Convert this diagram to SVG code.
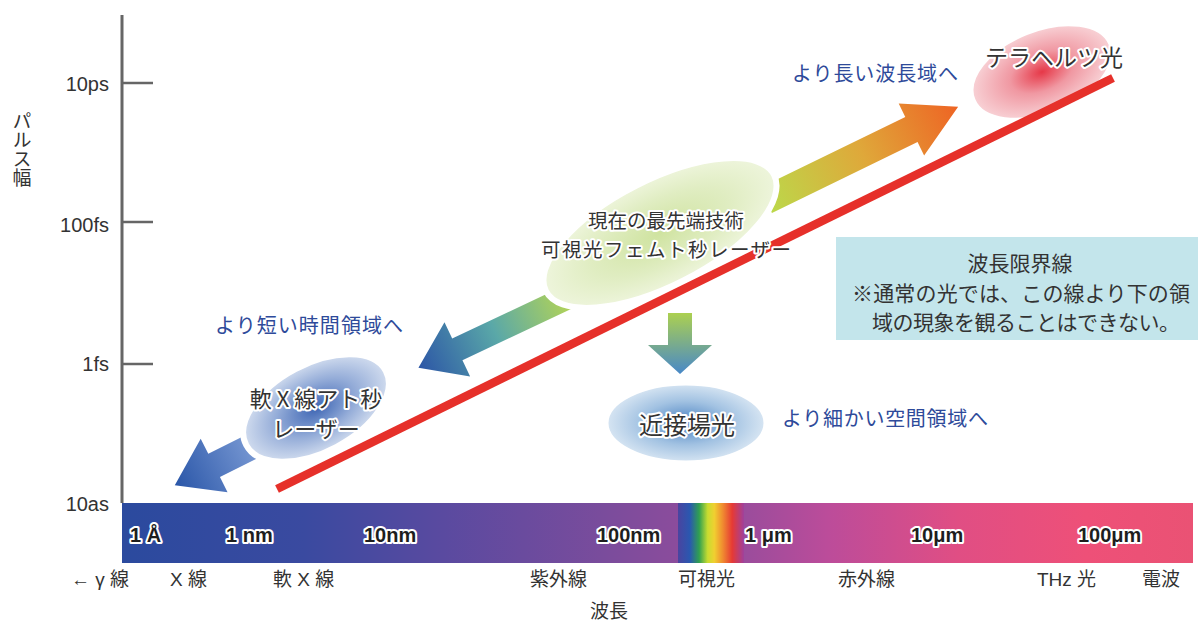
<svg xmlns="http://www.w3.org/2000/svg" width="1198" height="621" viewBox="0 0 1198 621">
<style>
.ax{font-family:"Liberation Sans","Noto Sans CJK JP",sans-serif;font-size:20px;fill:#333}
.jp{font-family:"Noto Sans CJK JP","Liberation Sans",sans-serif;fill:#333}
.lab{font-family:"Liberation Sans","Noto Sans CJK JP",sans-serif;font-size:19px;fill:#333}
.bar{font-family:"Liberation Sans",sans-serif;font-size:20px;font-weight:bold;fill:#1e1e1e;stroke:#fff;stroke-width:4;stroke-linejoin:round;paint-order:stroke}
.halo{stroke:#fff;stroke-width:4;stroke-linejoin:round;paint-order:stroke}
.blue{font-family:"Noto Sans CJK JP",sans-serif;font-size:20px;fill:#2e4a9a}
.box{font-family:"Noto Sans CJK JP",sans-serif;font-size:21px;fill:#333}
</style>
<defs>
<linearGradient id="spec" x1="122" y1="0" x2="1193" y2="0" gradientUnits="userSpaceOnUse">
<stop offset="0" stop-color="#2b4a9e"/>
<stop offset="0.17" stop-color="#3a4aa0"/>
<stop offset="0.3" stop-color="#5a4aa0"/>
<stop offset="0.45" stop-color="#7a4c9c"/>
<stop offset="0.58" stop-color="#9a4c9c"/>
<stop offset="0.66" stop-color="#bc4c9a"/>
<stop offset="0.78" stop-color="#e04e84"/>
<stop offset="0.9" stop-color="#ee5078"/>
<stop offset="1" stop-color="#ea5274"/>
</linearGradient>
<linearGradient id="vis" x1="0" y1="0" x2="1" y2="0">
<stop offset="0" stop-color="#4a44a0"/>
<stop offset="0.18" stop-color="#2a58b0"/>
<stop offset="0.32" stop-color="#30a050"/>
<stop offset="0.45" stop-color="#c8dc30"/>
<stop offset="0.55" stop-color="#f0d030"/>
<stop offset="0.68" stop-color="#f08a30"/>
<stop offset="0.82" stop-color="#e63a34"/>
<stop offset="1" stop-color="#a0409c"/>
</linearGradient>
<linearGradient id="gUp" x1="0" y1="0" x2="1" y2="0">
<stop offset="0" stop-color="#bcd84a"/>
<stop offset="0.5" stop-color="#dfa83a"/>
<stop offset="1" stop-color="#ee6424"/>
</linearGradient>
<linearGradient id="gLeft" x1="0" y1="0" x2="1" y2="0">
<stop offset="0" stop-color="#b8d652"/>
<stop offset="0.5" stop-color="#5aa8a8"/>
<stop offset="1" stop-color="#2c56a6"/>
</linearGradient>
<linearGradient id="gBlue" x1="0" y1="0" x2="1" y2="0">
<stop offset="0" stop-color="#7a9ad4"/>
<stop offset="1" stop-color="#2a56a8"/>
</linearGradient>
<linearGradient id="gDown" x1="0" y1="0" x2="0" y2="1">
<stop offset="0" stop-color="#acd050"/>
<stop offset="1" stop-color="#4888c8"/>
</linearGradient>
<radialGradient id="rPink">
<stop offset="0" stop-color="#e63848"/>
<stop offset="0.45" stop-color="#f098a2"/>
<stop offset="1" stop-color="#f8d2d6"/>
</radialGradient>
<radialGradient id="rGreen">
<stop offset="0" stop-color="#cfe3a0"/>
<stop offset="0.6" stop-color="#e0edc2"/>
<stop offset="1" stop-color="#eef5dc"/>
</radialGradient>
<radialGradient id="rBlue">
<stop offset="0" stop-color="#3e66b4"/>
<stop offset="0.55" stop-color="#94acd8"/>
<stop offset="1" stop-color="#d2ddef"/>
</radialGradient>
<radialGradient id="rNear">
<stop offset="0" stop-color="#4a82c2"/>
<stop offset="0.55" stop-color="#a2c2e2"/>
<stop offset="1" stop-color="#d8e6f3"/>
</radialGradient>
</defs>

<g id="axis">
<line x1="122" y1="15" x2="122" y2="503" stroke="#666" stroke-width="3"/>
<g stroke="#666" stroke-width="2.5">
<line x1="122" y1="83" x2="153" y2="83"/>
<line x1="122" y1="222" x2="153" y2="222"/>
<line x1="122" y1="364" x2="153" y2="364"/>
</g>
<g class="ax" text-anchor="end">
<text x="109" y="91">10ps</text>
<text x="109" y="232">100fs</text>
<text x="109" y="371">1fs</text>
<text x="109" y="511">10as</text>
</g>
<text class="jp" x="22" y="111" font-size="19" style="writing-mode:vertical-rl">パルス幅</text>
</g>

<g id="spectrum">
<rect x="122" y="503" width="1071" height="60" fill="url(#spec)"/>
<rect x="678" y="503" width="66" height="60" fill="url(#vis)"/>
<g class="bar">
<text x="130" y="542">1 Å</text>
<text x="226" y="542">1 nm</text>
<text x="364" y="542">10nm</text>
<text x="597" y="542">100nm</text>
<text x="745" y="542">1 μm</text>
<text x="911" y="542">10μm</text>
<text x="1078" y="542">100μm</text>
</g>
<g class="lab">
<text x="71" y="586">← γ 線</text>
<text x="170" y="586">X 線</text>
<text x="273" y="586">軟 X 線</text>
<text x="530" y="586">紫外線</text>
<text x="678" y="586">可視光</text>
<text x="838" y="586">赤外線</text>
<text x="1037" y="586">THz 光</text>
<text x="1142" y="586">電波</text>
<text x="609" y="618" text-anchor="middle">波長</text>
</g>
</g>

<g id="connectors">
<polygon transform="translate(773 197) rotate(-26)" points="-8,-14 154,-14 154,-29 206,0 154,29 154,14 -8,14" fill="url(#gUp)"/>
<polygon transform="translate(564 299) rotate(154.7)" points="-8,-12 118,-12 118,-30 161,0 118,30 118,12 -8,12" fill="url(#gLeft)"/>
<polygon transform="translate(249 448) rotate(153.4)" points="-8,-13 39,-13 39,-30 83,0 39,30 39,13 -8,13" fill="url(#gBlue)"/>
<polygon points="668,313 692,313 692,345 712,345 680,374 648,345 668,345" fill="url(#gDown)"/>
</g>

<g id="node-thz">
<ellipse cx="1042" cy="72" rx="74" ry="42" transform="rotate(-22 1042 72)" fill="url(#rPink)" stroke="#fff" stroke-width="4"/>
</g>

<g id="node-visible">
<ellipse cx="660" cy="233" rx="128" ry="53" transform="rotate(-27 660 233)" fill="url(#rGreen)" stroke="#fff" stroke-width="6"/>
</g>

<g id="node-softx">
<ellipse cx="316" cy="408" rx="79" ry="44" transform="rotate(-28 316 408)" fill="url(#rBlue)" stroke="#fff" stroke-width="6"/>
</g>

<g id="node-near">
<ellipse cx="686" cy="423" rx="80" ry="40" fill="url(#rNear)" stroke="#fff" stroke-width="5"/>
</g>

<g id="limit-line">
<line x1="277" y1="489" x2="1113" y2="78" stroke="#e6302a" stroke-width="8.5"/>
</g>

<g id="node-labels">
<text class="jp halo" x="985" y="66" font-size="23">テラヘルツ光</text>
<text class="jp halo" x="666" y="228" font-size="19.5" text-anchor="middle">現在の最先端技術</text>
<text class="jp halo" x="666" y="257" font-size="19.5" text-anchor="middle" textLength="250">可視光フェムト秒レーザー</text>
<text class="jp halo" x="316" y="407" font-size="22" text-anchor="middle" font-family="'Liberation Sans','Noto Sans CJK JP',sans-serif">軟 X 線アト秒</text>
<text class="jp halo" x="316" y="437" font-size="22" text-anchor="middle">レーザー</text>
<text class="jp halo" x="687" y="434" font-size="24" text-anchor="middle">近接場光</text>
</g>

<g id="labels">
<text class="blue" x="792" y="81" textLength="166">より長い波長域へ</text>
<text class="blue" x="215" y="333" textLength="188">より短い時間領域へ</text>
<text class="blue" x="782" y="426" textLength="206">より細かい空間領域へ</text>
</g>

<g id="note-box">
<rect x="836" y="237" width="362" height="103" fill="#c3e5eb"/>
<text class="box" x="1020" y="271" text-anchor="middle">波長限界線</text>
<text class="box" x="852" y="301" textLength="338">※通常の光では、この線より下の領</text>
<text class="box" x="872" y="330" textLength="308">域の現象を観ることはできない。</text>
</g>
</svg>
